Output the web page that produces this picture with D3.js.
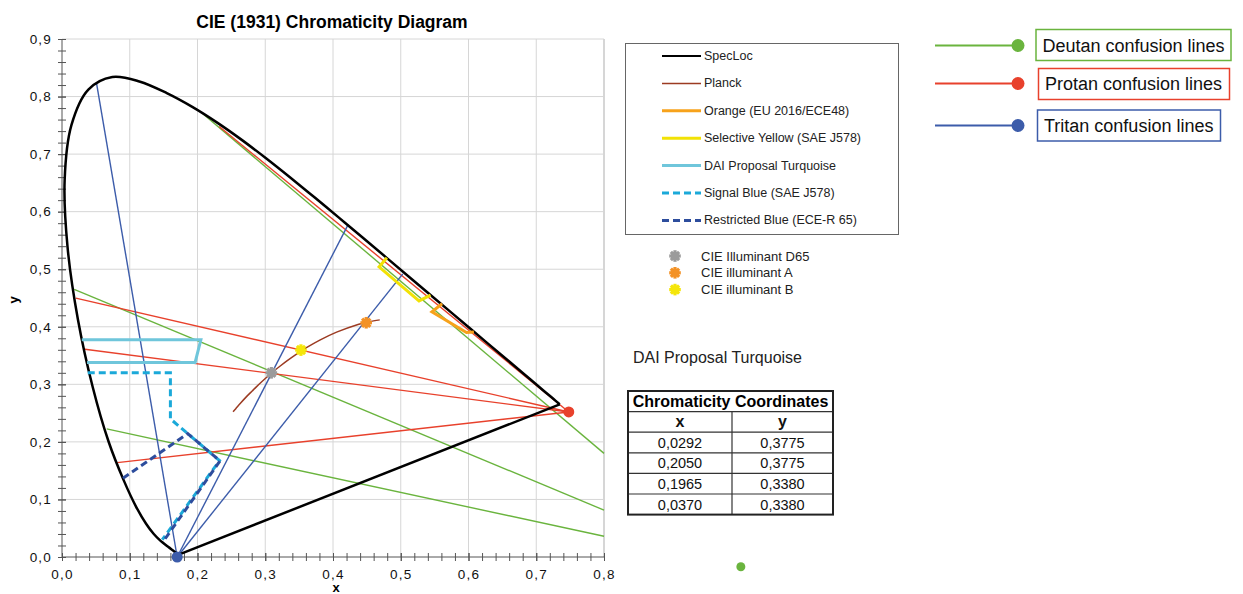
<!DOCTYPE html>
<html>
<head>
<meta charset="utf-8">
<script src="https://cdn.jsdelivr.net/npm/d3@7"></script>
<style>
  body { margin: 0; background: #fff; }
  svg { font-family: "Liberation Sans", Arial, sans-serif; }
  .axis path { stroke: #555; }
  .axis line { stroke: #555; }
</style>
</head>
<body>
<svg id="cie" width="1243" height="594"></svg>
<script>
// CIE 1931 spectral locus (x, y), 380 -> 700 nm
var specLoc = [[0.1741,0.0050],[0.1738,0.0049],[0.1733,0.0048],[0.1726,0.0048],[0.1714,0.0051],
  [0.1689,0.0069],[0.1644,0.0109],[0.1566,0.0177],[0.1440,0.0297],[0.1355,0.0399],[0.1241,0.0578],
  [0.1096,0.0868],[0.0913,0.1327],[0.0687,0.2007],[0.0454,0.2950],[0.0235,0.4127],[0.0082,0.5384],
  [0.0039,0.6548],[0.0139,0.7502],[0.0389,0.8120],[0.0743,0.8338],[0.1142,0.8262],[0.1547,0.8059],
  [0.1929,0.7816],[0.2296,0.7543],[0.2658,0.7243],[0.3016,0.6923],[0.3373,0.6589],[0.3731,0.6245],
  [0.4087,0.5896],[0.4441,0.5547],[0.4788,0.5202],[0.5125,0.4866],[0.5448,0.4544],[0.5752,0.4242],
  [0.6029,0.3965],[0.6270,0.3725],[0.6482,0.3514],[0.6658,0.3340],[0.6801,0.3197],[0.6915,0.3083],
  [0.7006,0.2993],[0.7079,0.2920],[0.7140,0.2859],[0.7190,0.2809],[0.7230,0.2770],[0.7260,0.2740],
  [0.7283,0.2717],[0.7300,0.2700],[0.7320,0.2680],[0.7334,0.2666],[0.7347,0.2653]];

var planck = [[0.2525,0.2523],[0.2565,0.2577],[0.2637,0.2675],[0.2720,0.2782],[0.2807,0.2884],
  [0.2869,0.2956],[0.2952,0.3048],[0.3064,0.3166],[0.3135,0.3237],[0.3221,0.3318],[0.3325,0.3411],
  [0.3451,0.3516],[0.3608,0.3636],[0.3805,0.3768],[0.4053,0.3907],[0.4369,0.4041],[0.4476,0.4074],
  [0.4690,0.4120]];

var orangeArea = [[0.561,0.440],[0.546,0.426],[0.597,0.390],[0.608,0.391]];
var yellowArea = [[0.4795,0.520],[0.468,0.504],[0.527,0.445],[0.544,0.455]];
var turquoiseArea = [[0.0292,0.3775],[0.2050,0.3775],[0.1965,0.3380],[0.0370,0.3380]];
var signalBlue = [[0.038,0.320],[0.160,0.320],[0.160,0.240],[0.2325,0.1675],[0.148,0.030]];
var restrictedBlue = [[0.090,0.137],[0.1856,0.2144],[0.2331,0.1669],[0.150,0.028]];

var protanPoint = [0.748, 0.252];
var protanStarts = [[0.232,0.748],[0.0204,0.4497],[0.0338,0.361],[0.0816,0.164]];

var tritanPoint = [0.170, 0.0];
var tritanEnds = [[0.051,0.823],[0.4225,0.578],[0.503,0.492]];

var deutanLines = [
  [[0.204,0.774],[0.8,0.180]],
  [[0.018,0.465],[0.8,0.0815]],
  [[0.066,0.2225],[0.8,0.036]]
];
var deutanStray = [1.002, -0.017];

var illumNames = ["CIE Illuminant D65", "CIE illuminant A", "CIE illuminant B"];
var illumPoints = [[0.309,0.320],[0.449,0.407],[0.3527,0.3595]];
var illumColors = ["#9b9b9b", "#f39226", "#f5e60a"];

var legendNames = ["SpecLoc", "Planck", "Orange (EU 2016/ECE48)", "Selective Yellow (SAE J578)",
  "DAI Proposal Turquoise", "Signal Blue (SAE J578)", "Restricted Blue (ECE-R 65)"];

var confusionNames = ["Deutan confusion lines", "Protan confusion lines", "Tritan confusion lines"];

var xTicks = [0, 0.1, 0.2, 0.3, 0.4, 0.5, 0.6, 0.7, 0.8];
var yTicks = [0, 0.1, 0.2, 0.3, 0.4, 0.5, 0.6, 0.7, 0.8, 0.9];

var tableHead = ["x", "y"];
var tableRows = [["0,0292","0,3775"],["0,2050","0,3775"],["0,1965","0,3380"],["0,0370","0,3380"]];

var C = {
  locus: "#000", planck: "#9c3b22", orange: "#f7a21b", yellow: "#f2e205",
  turq: "#6fc6db", signal: "#1ba9d9", restricted: "#2d4d9d",
  protan: "#e8412c", deutan: "#6ab43e", tritan: "#3c5caa", grid: "#d6d6d6"
};

var svg = d3.select("#cie");
var x = d3.scaleLinear().domain([0, 0.8]).range([62, 604]);
var y = d3.scaleLinear().domain([0, 0.9]).range([557, 39]);
var comma = function(d) { return d3.format(".1f")(d).replace(".", ","); };

// title
svg.append("text")
   .attr("x", 332).attr("y", 28)
   .attr("text-anchor", "middle")
   .attr("font-size", "17.5px").attr("font-weight", "bold")
   .text("CIE (1931) Chromaticity Diagram");

// grid
var grid = svg.append("g");
grid.selectAll(".gx").data(xTicks.slice(1)).enter().append("line")
    .attr("x1", function(d) { return x(d); }).attr("x2", function(d) { return x(d); })
    .attr("y1", y(0)).attr("y2", y(0.9))
    .attr("stroke", C.grid).attr("stroke-width", function(d) { return d === 0.8 ? 2 : 1; });
grid.selectAll(".gy").data(yTicks.slice(1)).enter().append("line")
    .attr("x1", x(0)).attr("x2", x(0.8))
    .attr("y1", function(d) { return y(d); }).attr("y2", function(d) { return y(d); })
    .attr("stroke", C.grid).attr("stroke-width", 1);

// axes, minor ticks crossing the axis line
var xa = svg.append("g").attr("class", "axis").attr("transform", "translate(0," + y(0) + ")");
xa.call(d3.axisBottom(x).tickValues(x.ticks(40)).tickSize(4).tickFormat(""))
  .selectAll(".tick line").attr("y1", -4);
xa.select(".domain").remove();
var xl = svg.append("g").attr("class", "axis").attr("transform", "translate(0," + y(0) + ")");
xl.call(d3.axisBottom(x).tickValues(xTicks).tickSize(4).tickPadding(8).tickFormat(comma))
  .selectAll(".tick line").attr("y1", -4);
xl.select(".domain").attr("d", "M" + x(0) + ",0H" + x(0.8));

var ya = svg.append("g").attr("class", "axis").attr("transform", "translate(" + x(0) + ",0)");
ya.call(d3.axisLeft(y).tickValues(y.ticks(45)).tickSize(4).tickFormat(""))
  .selectAll(".tick line").attr("x1", 4);
ya.select(".domain").remove();
var yl = svg.append("g").attr("class", "axis").attr("transform", "translate(" + x(0) + ",0)");
yl.call(d3.axisLeft(y).tickValues(yTicks).tickSize(4).tickPadding(6).tickFormat(comma))
  .selectAll(".tick line").attr("x1", 4);
yl.select(".domain").attr("d", "M0," + y(0) + "V" + y(0.9));
svg.selectAll(".axis").attr("font-family", null).attr("font-size", null);
svg.selectAll(".axis text").attr("font-size", "13.5px").attr("letter-spacing", "1.2px")
   .attr("fill", "#111");

svg.append("text").attr("x", 336).attr("y", 592)
   .attr("text-anchor", "middle").attr("font-size", "13px").attr("font-weight", "bold").text("x");
svg.append("text").attr("transform", "translate(18,300) rotate(-90)")
   .attr("text-anchor", "middle").attr("font-size", "13px").attr("font-weight", "bold").text("y");

var line = d3.line().x(function(d) { return x(d[0]); }).y(function(d) { return y(d[1]); });
var smooth = d3.line().x(function(d) { return x(d[0]); }).y(function(d) { return y(d[1]); })
               .curve(d3.curveCatmullRom);

var plot = svg.append("g");

// confusion lines
deutanLines.forEach(function(l) {
  plot.append("path").attr("d", line(l)).attr("fill", "none")
      .attr("stroke", C.deutan).attr("stroke-width", 1.4);
});
protanStarts.forEach(function(p) {
  plot.append("path").attr("d", line([p, protanPoint])).attr("fill", "none")
      .attr("stroke", C.protan).attr("stroke-width", 1.4);
});
tritanEnds.forEach(function(p) {
  plot.append("path").attr("d", line([tritanPoint, p])).attr("fill", "none")
      .attr("stroke", C.tritan).attr("stroke-width", 1.4);
});

// spectral locus and purple line
plot.append("path").attr("d", smooth(specLoc)).attr("fill", "none")
    .attr("stroke", C.locus).attr("stroke-width", 2.5);
plot.append("path").attr("d", line([specLoc[specLoc.length - 1], specLoc[0]])).attr("fill", "none")
    .attr("stroke", C.locus).attr("stroke-width", 2.5);

// colour areas
function area(pts, col, dash) {
  plot.append("path").attr("d", line(pts)).attr("fill", "none")
      .attr("stroke", col).attr("stroke-width", 3)
      .attr("stroke-dasharray", dash || null);
}
area(orangeArea, C.orange);
area(yellowArea, C.yellow);
area(turquoiseArea, C.turq);
area(signalBlue, C.signal, "7,4");
area(restrictedBlue, C.restricted, "7,4");

plot.append("path").attr("d", smooth(planck)).attr("fill", "none")
    .attr("stroke", C.planck).attr("stroke-width", 1.5);

// gear shaped illuminant markers
function gear(g, cx, cy, col) {
  var m = g.append("g").attr("transform", "translate(" + cx + "," + cy + ")");
  m.append("circle").attr("r", 4.3).attr("fill", col);
  [0, 45, 90, 135].forEach(function(a) {
    m.append("line").attr("x1", -5.8).attr("x2", 5.8)
     .attr("transform", "rotate(" + a + ")")
     .attr("stroke", col).attr("stroke-width", 3.2);
  });
}
illumPoints.forEach(function(p, i) { gear(plot, x(p[0]), y(p[1]), illumColors[i]); });

plot.append("circle").attr("cx", x(protanPoint[0])).attr("cy", y(protanPoint[1]))
    .attr("r", 5.5).attr("fill", C.protan);
plot.append("circle").attr("cx", x(tritanPoint[0])).attr("cy", y(tritanPoint[1]))
    .attr("r", 5.5).attr("fill", C.tritan);
plot.append("circle").attr("cx", x(deutanStray[0])).attr("cy", y(deutanStray[1]))
    .attr("r", 4.5).attr("fill", C.deutan);

// line legend
var lg = svg.append("g");
lg.append("rect").attr("x", 625.5).attr("y", 43.5).attr("width", 273).attr("height", 191)
  .attr("fill", "#fff").attr("stroke", "#666").attr("stroke-width", 1);
var legStyle = [
  [C.locus, 2, null], [C.planck, 1.5, null], [C.orange, 3, null], [C.yellow, 3, null],
  [C.turq, 3, null], [C.signal, 3, "7,4"], [C.restricted, 3, "7,4"]
];
legendNames.forEach(function(n, i) {
  var ly = 56 + i * 27.4;
  lg.append("line").attr("x1", 662).attr("x2", 701).attr("y1", ly).attr("y2", ly)
    .attr("stroke", legStyle[i][0]).attr("stroke-width", legStyle[i][1])
    .attr("stroke-dasharray", legStyle[i][2]);
  lg.append("text").attr("x", 704).attr("y", ly + 4).attr("font-size", "12.5px")
    .attr("fill", "#222").text(n);
});
illumNames.forEach(function(n, i) {
  var ly = 256 + i * 16.8;
  gear(lg, 675, ly, illumColors[i]);
  lg.append("text").attr("x", 701).attr("y", ly + 4.5).attr("font-size", "13px")
    .attr("fill", "#222").text(n);
});

// confusion line legend
var cg = svg.append("g");
var cCols = [C.deutan, C.protan, C.tritan];
var cY = [45.5, 83.5, 125.5];
var cBox = [[1036, 29.5, 195, 31], [1038.5, 68.5, 191, 31], [1037.5, 110, 183, 31]];
confusionNames.forEach(function(n, i) {
  cg.append("line").attr("x1", 935).attr("x2", 1018).attr("y1", cY[i]).attr("y2", cY[i])
    .attr("stroke", cCols[i]).attr("stroke-width", 2);
  cg.append("circle").attr("cx", 1018).attr("cy", cY[i]).attr("r", 6.5).attr("fill", cCols[i]);
  cg.append("rect").attr("x", cBox[i][0]).attr("y", cBox[i][1])
    .attr("width", cBox[i][2]).attr("height", cBox[i][3])
    .attr("fill", "none").attr("stroke", cCols[i]).attr("stroke-width", 1.5);
  cg.append("text").attr("x", cBox[i][0] + 6.5).attr("y", cY[i] + 6)
    .attr("font-size", "18px").attr("fill", "#111").text(n);
});

// coordinates table
svg.append("text").attr("x", 633).attr("y", 363).attr("font-size", "16px")
   .attr("fill", "#222").text("DAI Proposal Turquoise");
var tb = svg.append("g");
var tx0 = 628, tx1 = 833, tcol = 732, ty0 = 391, rowH = 20.6;
var nRows = tableRows.length + 2;
for (var r = 1; r < nRows; r++) {
  tb.append("line").attr("x1", tx0).attr("x2", tx1)
    .attr("y1", ty0 + r * rowH).attr("y2", ty0 + r * rowH)
    .attr("stroke", "#333").attr("stroke-width", 1.2);
}
tb.append("line").attr("x1", tcol).attr("x2", tcol)
  .attr("y1", ty0 + rowH).attr("y2", ty0 + nRows * rowH)
  .attr("stroke", "#333").attr("stroke-width", 1.2);
tb.append("rect").attr("x", tx0).attr("y", ty0).attr("width", tx1 - tx0).attr("height", nRows * rowH)
  .attr("fill", "none").attr("stroke", "#222").attr("stroke-width", 2);
tb.append("text").attr("x", (tx0 + tx1) / 2).attr("y", ty0 + 16)
  .attr("text-anchor", "middle").attr("font-size", "16px").attr("font-weight", "bold")
  .text("Chromaticity Coordinates");
var allRows = [tableHead].concat(tableRows);
allRows.forEach(function(row, i) {
  var ry = ty0 + (i + 1) * rowH + 15.5;
  row.forEach(function(v, j) {
    tb.append("text").attr("x", j === 0 ? (tx0 + tcol) / 2 : (tcol + tx1) / 2).attr("y", ry)
      .attr("text-anchor", "middle").attr("font-size", i === 0 ? "16px" : "14.5px")
      .attr("font-weight", i === 0 ? "bold" : "normal").attr("fill", "#111").text(v);
  });
});
</script>
</body>
</html>
